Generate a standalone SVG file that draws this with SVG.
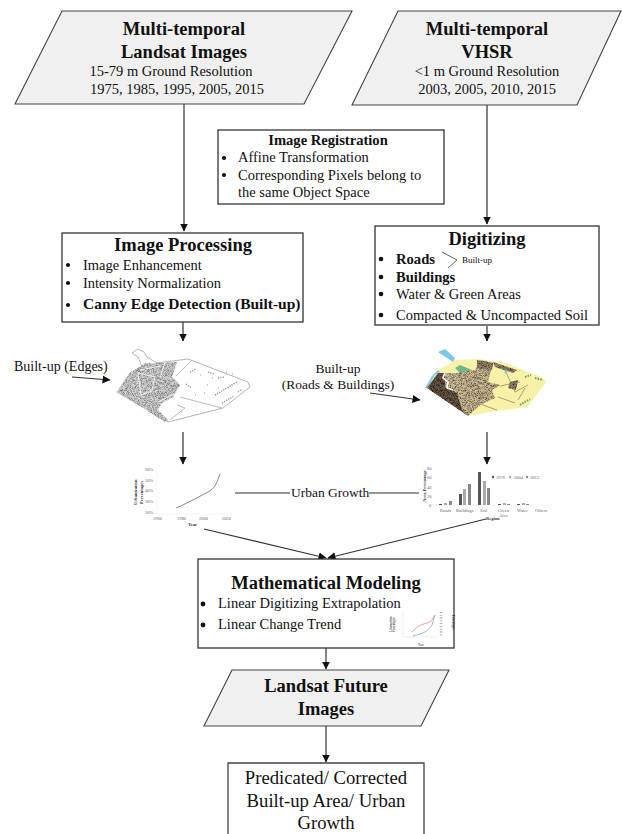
<svg xmlns="http://www.w3.org/2000/svg" width="622" height="834" viewBox="0 0 622 834">
<style>
text{font-family:"Liberation Serif","Times New Roman",serif;fill:#111}
.h{font-size:18.5px;font-weight:700;text-anchor:middle}
.s{font-size:14.5px;text-anchor:middle}
.b{font-size:14.5px}
.bb{font-size:14.6px;font-weight:700}
.box{fill:#fff;stroke:#333;stroke-width:1.3}
.para{fill:#f0f0f0;stroke:#444;stroke-width:1.1}
.ln{fill:none;stroke:#333;stroke-width:1.2}
.t{font-size:4.5px;fill:#666}
.tb{font-size:4.5px;font-weight:700;fill:#333}
.d{fill:#111}
</style>
<defs>
<marker id="a" markerWidth="9" markerHeight="9" refX="7.5" refY="4" orient="auto" markerUnits="userSpaceOnUse"><path d="M0 0L8 4L0 8Z" fill="#111"/></marker>
<filter id="sp" x="0" y="0" width="1" height="1"><feTurbulence type="fractalNoise" baseFrequency="1.6" numOctaves="1" seed="4" result="n"/><feColorMatrix in="n" type="matrix" values="0 0 0 0 0 0 0 0 0 0 0 0 0 0 0 2.2 2.2 0 0 -1.9" result="m"/><feComposite in="SourceGraphic" in2="m" operator="in"/><feGaussianBlur stdDeviation=".3"/></filter>
</defs>

<g id="connectors">
<path class="ln" d="M184 104V231" marker-end="url(#a)"/>
<path class="ln" d="M487 105V224" marker-end="url(#a)"/>
<path class="ln" d="M183 322V341" marker-end="url(#a)"/>
<path class="ln" d="M487 326V341" marker-end="url(#a)"/>
<path class="ln" d="M72 377L110 380" marker-end="url(#a)"/>
<path class="ln" d="M370 393L420 400" marker-end="url(#a)"/>
<path class="ln" d="M183 432V464" marker-end="url(#a)"/>
<path class="ln" d="M487 432V464" marker-end="url(#a)"/>
<path class="ln" d="M235 493H290M369 493H419"/>
<path class="ln" d="M204 529L326 558" marker-end="url(#a)"/>
<path class="ln" d="M486 519L328 558" marker-end="url(#a)"/>
<path class="ln" d="M326 648V669" marker-end="url(#a)"/>
<path class="ln" d="M326 726V762" marker-end="url(#a)"/>
</g>

<g id="landsat"><path class="para" d="M62 11H352L304 104H15Z"/>
<text class="h" x="184" y="35">Multi-temporal</text><text class="h" x="184" y="58">Landsat Images</text>
<text class="s" x="171" y="76">15-79 m Ground Resolution</text><text class="s" x="177" y="94">1975, 1985, 1995, 2005, 2015</text></g>

<g id="vhsr"><path class="para" d="M398 11H621L577 105H352Z"/>
<text class="h" x="487" y="35">Multi-temporal</text><text class="h" x="487" y="58">VHSR</text>
<text class="s" x="487" y="76">&lt;1 m Ground Resolution</text><text class="s" x="487" y="94">2003, 2005, 2010, 2015</text></g>

<g id="registration"><rect class="box" x="218" y="130" width="226" height="74"/>
<text x="328" y="145" text-anchor="middle" class="bb">Image Registration</text>
<circle class="d" cx="224" cy="158" r="2.1"/><text class="b" x="238" y="162">Affine Transformation</text>
<circle class="d" cx="224" cy="175" r="2.1"/><text class="b" x="238" y="180">Corresponding Pixels belong to</text>
<text class="b" x="238" y="197">the same Object Space</text></g>

<g id="processing"><rect class="box" x="62" y="233" width="241" height="89"/>
<text class="h" x="183" y="251">Image Processing</text>
<circle class="d" cx="68" cy="265" r="2.1"/><text class="b" x="83" y="270">Image Enhancement</text>
<circle class="d" cx="68" cy="283" r="2.1"/><text class="b" x="83" y="288">Intensity Normalization</text>
<circle class="d" cx="68" cy="305" r="2.1"/><text x="83" y="309" font-size="15.5" font-weight="700">Canny Edge Detection (Built-up)</text></g>

<g id="digitizing"><rect class="box" x="375" y="226" width="224" height="99"/>
<text class="h" x="487" y="245">Digitizing</text>
<circle class="d" cx="381" cy="259" r="2.3"/><text class="bb" x="396" y="264">Roads</text>
<path d="M442 252L457 260L448 268" fill="none" stroke="#666"/><text x="462" y="263" font-size="9">Built-up</text>
<circle class="d" cx="381" cy="277" r="2.3"/><text class="bb" x="396" y="282">Buildings</text>
<circle class="d" cx="381" cy="294" r="2.3"/><text class="b" x="396" y="299">Water &amp; Green Areas</text>
<circle class="d" cx="381" cy="315" r="2.3"/><text class="b" x="396" y="320">Compacted &amp; Uncompacted Soil</text></g>

<g id="label-edges"><text x="14" y="371" font-size="14">Built-up (Edges)</text></g>
<g id="label-roads"><text x="338" y="373" font-size="13.5" text-anchor="middle">Built-up</text><text x="338" y="389" font-size="13.5" text-anchor="middle">(Roads &amp; Buildings)</text></g>

<g id="map-edges">
<path d="M132 353L138 349L144 352L147 357L157 363L188 359L248 382L250 387L223 408L168 422L117 392L130 373L142 367L138 357Z" fill="#fff" stroke="#aaa" stroke-width=".9"/>
<path d="M118 392L130 373L145 363L155 363L177 362L172 377L180 385L173 397L162 403L158 410L168 420L165 422Z" fill="#d2d2d2"/>
<path d="M118 392L130 373L145 363L155 363L177 362L172 377L180 385L173 397L162 403L158 410L168 420L165 422Z" fill="#777" filter="url(#sp)"/>
<path d="M138 373L141 395L152 391L155 377ZM140 370L160 366M165 362L160 378M158 402L178 392" fill="none" stroke="#eee" stroke-width="1"/>
<path d="M180 397L222 408M170 420L185 408L177 405M192 360L176 376" fill="none" stroke="#aaa" stroke-width=".8"/>
<path d="M215 395L237 382M218 378l6 -1M208 372l6 2M222 403L234 396M190 372l6 -3M186 384l6 4M238 392l4 -3" fill="none" stroke="#999" stroke-width="1.5" stroke-dasharray="1.2 1.2"/>
<path d="M200 375h1M207 385h1M212 378h1M226 372h1M195 395h1M218 388h1M232 374h1M204 393h1M228 388h1M181 412h1" stroke="#999" stroke-width="1.2"/>
</g>

<g id="map-digitized">
<path d="M427 387L438 370L448 365L455 360L478 359L507 363L527 372L542 377L546 382L533 400L527 407L497 411L468 416Z" fill="#f8f2a8"/>
<path d="M438 352L445 349L455 358L453 362L447 358ZM427 388L435 375L440 372L438 370L432 376L425 388Z" fill="#7cc9e8"/>
<path d="M455 368L460 365L472 370L467 373L460 373Z" fill="#6fb88c"/>
<path d="M445 373L455 373L475 370L480 360L493 363L488 382L500 385L492 390L495 398L480 405L468 416L430 390Z" fill="#cdbf98"/>
<path d="M445 373L455 373L475 370L480 360L493 363L488 382L500 385L492 390L495 398L480 405L468 416L430 390Z" fill="#5c4c3c" filter="url(#sp)"/>
<path d="M427 388L438 373L445 373L445 387L457 393L462 410L467 415Z" fill="#6b5a4a"/>
<path d="M427 388L438 373L445 373L445 387L457 393L462 410L467 415Z" fill="#241a14" filter="url(#sp)"/>
<path d="M477 360L493 363L492 370L477 368ZM493 362L517 370L513 373L495 367ZM510 382L518 380L516 390L508 388Z" fill="#9a8a6e"/>
<path d="M477 360L493 363L492 370L477 368ZM493 362L517 370L513 373L495 367ZM510 382L518 380L516 390L508 388Z" fill="#3d3026" filter="url(#sp)"/>
<path d="M445 372L443 378L448 382L447 388L453 390" fill="none" stroke="#fff" stroke-width="1.6"/>
<path d="M477 403L497 410M498 397L515 403M505 370L515 392M515 392L528 385M500 386L520 382M518 400L525 388" fill="none" stroke="#8c7f50" stroke-width=".7"/>
<path d="M520 405L530 399M535 378L543 380M525 377L531 375M505 370h3" fill="none" stroke="#6f9a68" stroke-width="2" stroke-dasharray="1.5 1.2"/>
<circle cx="506" cy="372" r="1.5" fill="#7cc9e8"/>
</g>

<g id="chart-urban">
<path d="M157 468V514H234" fill="none" stroke="#eee" stroke-width=".6"/>
<path d="M176 508C190 502 200 496 210 491C216 487 218 479 220 474" fill="none" stroke="#888" stroke-width="1"/>
<text class="t" x="145" y="471">60%</text><text class="t" x="145" y="482">50%</text><text class="t" x="145" y="492">40%</text><text class="t" x="145" y="503">30%</text><text class="t" x="145" y="514">20%</text>
<text class="t" x="153" y="520">1960</text><text class="t" x="177" y="520">1980</text><text class="t" x="199" y="520">2000</text><text class="t" x="222" y="520">2020</text>
<text class="tb" x="188" y="526">Year</text>
<text class="tb" transform="translate(137 505) rotate(-90)">Urbanization</text>
<text class="tb" transform="translate(143 504) rotate(-90)">Percentages</text>
</g>

<g id="chart-area">
<path d="M432 505H552" stroke="#eee" stroke-width=".6"/>
<g fill="#555"><rect x="439" y="504" width="3" height="1"/><rect x="459" y="494" width="3" height="11"/><rect x="478" y="472" width="3" height="33"/><rect x="498" y="504" width="3" height="1"/><rect x="517" y="504" width="3" height="1"/></g>
<g fill="#aaa"><rect x="444" y="503" width="3" height="2"/><rect x="463" y="489" width="3" height="16"/><rect x="483" y="481" width="3" height="24"/><rect x="503" y="503" width="3" height="2"/><rect x="522" y="503" width="3" height="2"/></g>
<g fill="#888"><rect x="449" y="501" width="3" height="4"/><rect x="468" y="484" width="3" height="21"/><rect x="487" y="488" width="3" height="17"/><rect x="507" y="504" width="3" height="1"/><rect x="526" y="504" width="3" height="1"/></g>
<text class="t" x="427" y="470">80</text><text class="t" x="427" y="479">60</text><text class="t" x="427" y="489">40</text><text class="t" x="427" y="498">20</text><text class="t" x="429" y="507">0</text>
<text class="tb" transform="translate(426 502) rotate(-90)">Area Percentage</text>
<text class="t" x="440" y="512">Roads</text><text class="t" x="456" y="512">Buildings</text><text class="t" x="480" y="512">Soil</text><text class="t" x="498" y="512">Green</text><text class="t" x="499" y="517">Area</text><text class="t" x="517" y="512">Water</text><text class="t" x="535" y="512">Others</text>
<text class="tb" x="486" y="520">Region</text>
<circle cx="493" cy="477" r="1.2" fill="#555"/><text class="t" x="496" y="479">1976</text>
<circle cx="510" cy="477" r="1.2" fill="#aaa"/><text class="t" x="514" y="479">2004</text>
<circle cx="527" cy="477" r="1.2" fill="#888"/><text class="t" x="530" y="479">2013</text>
</g>

<g id="label-growth"><text x="291" y="497" font-size="13.5">Urban Growth</text></g>

<g id="modeling"><rect class="box" x="198" y="559" width="256" height="89"/>
<text class="h" x="326" y="589">Mathematical Modeling</text>
<circle class="d" cx="203" cy="604" r="2.4"/><text class="b" x="218" y="608">Linear Digitizing Extrapolation</text>
<circle class="d" cx="203" cy="625" r="2.4"/><text class="b" x="218" y="629">Linear Change Trend</text>
<path d="M403 612V637H438" fill="none" stroke="#ddd" stroke-width=".5"/>
<path d="M412 632C415 629 418 626 421 625C425 623 430 623 432 620C433 618 434 616 435 615" fill="none" stroke="#d88a8a" stroke-width=".8"/>
<path d="M413 636C417 635 420 634 423 633C427 631 430 628 432 625C433 622 434 618 435 615" fill="none" stroke="#8a9ed0" stroke-width=".8"/>
<text font-size="3" fill="#777" transform="translate(392 632) rotate(-90)">Urbanization</text>
<text font-size="3" fill="#777" transform="translate(395 632) rotate(-90)">Percentages</text>
<text font-size="3" fill="#777" x="418" y="646">Year</text>
<text font-size="3" fill="#777" transform="translate(452 615) rotate(90)">Percentages</text>
<path d="M441 612V637" stroke="#999" stroke-width="2.5" stroke-dasharray=".8 2"/>
</g>

<g id="future"><path class="para" d="M232 670H449L421 726H204Z"/>
<text class="h" x="326" y="692">Landsat Future</text><text class="h" x="326" y="715">Images</text></g>

<g id="result"><path d="M228 834V763H424V834" fill="#fff" stroke="#444" stroke-width="1.3"/>
<text x="326" y="784" text-anchor="middle" font-size="18.7">Predicated/ Corrected</text>
<text x="326" y="807" text-anchor="middle" font-size="18.7">Built-up Area/ Urban</text>
<text x="326" y="829" text-anchor="middle" font-size="18.7">Growth</text></g>
</svg>
